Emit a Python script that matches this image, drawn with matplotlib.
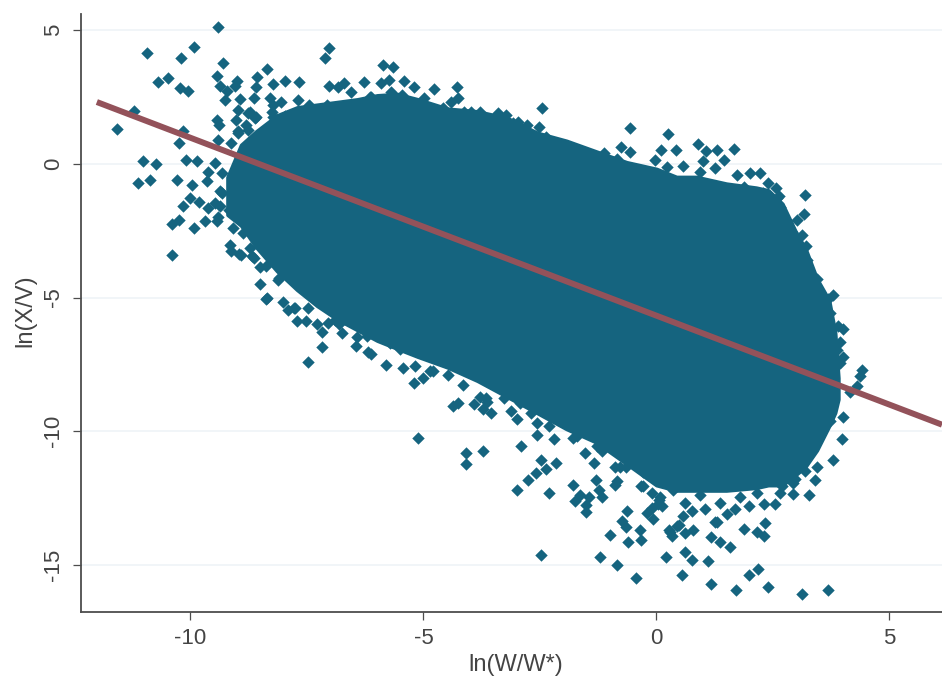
import numpy as np
import matplotlib
matplotlib.use("Agg")
import matplotlib.pyplot as plt

plt.rcParams['font.family'] = ['Liberation Sans', 'DejaVu Sans']
plt.rcParams['axes.unicode_minus'] = False

x_ticks = [-10, -5, 0, 5]
y_ticks = [-15, -10, -5, 0, 5]
x_label = "ln(W/W*)"
y_label = "ln(X/V)"

# dense cloud envelope
cloud_x = [-9.2, -8.91, -8.59, -8.14, -7.71, -7.28, -6.85, -6.42, -5.99, -5.56, -5.12, -4.48, -3.84, -3.2, -2.56, -1.93,
           -1.29, -0.64, 0.0, 0.43, 0.86, 1.5, 2.14, 2.4, 2.7, 3.0, 3.2, 3.44, 3.7, 3.83, 3.9]
cloud_top = [-0.5, 0.7, 1.2, 1.8, 2.1, 2.2, 2.3, 2.4, 2.55, 2.6, 2.4, 2.05, 1.95, 1.7, 1.15, 0.85,
             0.45, 0.05, -0.2, -0.5, -0.5, -0.75, -0.9, -1.0, -1.5, -2.6, -3.2, -4.3, -5.1, -6.3, -8.0]
cloud_low = [-1.9, -2.3, -3.1, -4.0, -4.7, -5.3, -5.8, -6.2, -6.6, -6.9, -7.2, -7.6, -8.1, -8.7, -9.3, -9.9,
             -10.4, -11.2, -12.0, -12.2, -12.2, -12.2, -12.1, -12.0, -12.0, -11.6, -11.3, -10.7, -9.8, -9.3, -8.8]

# individually readable points around the cloud
scatter_points = [
    (-9.41, 5.10), (-10.94, 4.15), (-9.93, 4.38), (-10.21, 3.96), (-9.30, 3.78), (-7.02, 4.32), (-7.11, 3.94),
    (-9.44, 3.29), (-10.49, 3.22), (-10.70, 3.05), (-10.22, 2.82), (-10.06, 2.73), (-9.37, 2.92), (-9.00, 3.10),
    (-9.04, 2.91), (-9.21, 2.74), (-8.36, 3.53), (-8.57, 3.24), (-8.59, 2.86), (-8.23, 3.00), (-7.98, 3.11),
    (-7.67, 3.05), (-9.25, 2.39), (-8.94, 2.41), (-8.64, 2.45), (-8.30, 2.45), (-8.05, 2.32), (-7.69, 2.39),
    (-7.02, 2.91), (-6.70, 3.02), (-6.84, 2.86), (-6.55, 2.69), (-6.27, 3.05), (-6.12, 2.51), (-8.99, 2.01),
    (-8.72, 1.95), (-11.21, 1.98), (-11.57, 1.29), (-9.44, 1.64), (-9.39, 1.46), (-9.03, 1.62), (-8.59, 1.76),
    (-8.80, 1.46), (-8.98, 1.17), (-10.16, 1.24), (-10.25, 0.77), (-9.41, 0.90), (-9.14, 0.79), (-11.01, 0.12),
    (-10.73, 0.01), (-10.09, 0.15), (-9.87, 0.09), (-11.12, -0.72), (-10.87, -0.60), (-10.28, -0.60), (-9.96, -0.78),
    (-9.48, 0.03), (-9.62, -0.29), (-9.64, -0.66), (-10.00, -1.26), (-10.17, -1.57), (-9.81, -1.43), (-9.62, -1.65),
    (-9.37, -1.59), (-9.37, -1.03), (-10.24, -2.09), (-10.39, -2.24), (-9.93, -2.41), (-9.69, -2.15), (-9.44, -2.15),
    (-10.39, -3.40), (-9.16, -3.02), (-9.12, -3.27), (-8.92, -3.40), (-8.64, -3.52), (-9.09, -2.40), (-8.87, -2.59),
    (-8.73, -3.15), (-8.50, -4.48), (-8.36, -5.01), (-8.37, -3.83), (-8.09, -4.27), (-7.99, -3.83), (-8.12, -4.35),
    (-8.37, -5.04), (-8.01, -5.16), (-7.91, -5.45), (-7.77, -5.39), (-7.71, -5.88), (-7.17, -6.83),
    (-7.47, -7.39), (-6.19, -7.05), (-6.81, -6.00),
    (-5.20, -8.21), (-4.16, -8.25), (-4.25, -8.93), (-4.37, -9.06), (-3.91, -8.96), (-3.73, -9.15), (-3.66, -8.74),
    (-3.55, -9.33), (-3.27, -8.74), (-3.13, -9.24), (-3.00, -9.55), (-2.70, -9.30), (-2.56, -9.68), (-2.31, -9.80),
    (-2.56, -10.15), (-2.20, -10.30), (-1.70, -10.18), (-5.12, -10.25), (-4.08, -10.80), (-3.73, -10.73),
    (-4.08, -11.23), (-2.90, -10.55), (-2.48, -11.08), (-2.16, -11.17), (-2.36, -11.39), (-2.59, -11.54),
    (-2.76, -11.82), (-3.00, -12.19), (-2.31, -12.31), (-1.54, -10.79), (-1.33, -11.17), (-1.27, -10.55),
    (-1.78, -12.01), (-1.29, -11.82), (-0.88, -11.35), (-0.66, -11.35), (-0.84, -11.85), (-0.88, -12.01),
    (-1.24, -12.19), (-1.16, -12.44), (-1.65, -12.39), (-1.45, -12.44), (-1.75, -12.60), (-1.51, -12.76),
    (-1.51, -13.00), (-0.32, -12.06), (-0.09, -12.29), (-0.28, -11.53), (0.05, -12.56), (0.12, -12.79),
    (-0.09, -12.85), (-0.20, -13.06), (-0.07, -13.26), (-0.63, -12.97), (-0.74, -13.34), (-0.66, -13.59),
    (-0.36, -13.69), (-0.32, -14.07), (-0.99, -13.88), (-0.62, -14.15), (-1.20, -14.68), (-0.84, -14.99),
    (-0.43, -15.47), (-2.48, -14.62), (0.20, -14.68), (0.26, -13.69), (0.34, -13.90), (0.44, -13.53),
    (0.62, -12.66), (0.04, -12.72), (0.76, -12.97), (0.58, -13.16), (0.48, -13.51), (0.30, -13.76), (0.62, -13.81),
    (0.79, -13.69), (1.31, -13.38), (1.25, -13.38), (1.88, -13.66), (2.16, -13.75), (2.30, -13.91), (2.33, -13.41),
    (1.18, -13.94), (1.36, -14.12), (1.59, -14.31), (0.62, -14.50), (0.76, -14.81), (1.11, -14.86), (0.55, -15.35),
    (1.18, -15.71), (1.70, -15.94), (1.98, -15.35), (2.19, -15.16), (2.40, -15.83), (3.13, -16.08), (3.69, -15.94),
    (3.28, -12.38), (2.93, -12.33), (3.40, -11.83), (3.78, -11.08), (3.98, -10.30), (4.01, -9.45), (3.73, -9.61),
    (3.44, -11.35), (3.19, -11.48), (2.98, -11.79), (2.69, -12.04), (2.55, -12.72), (2.30, -12.72), (1.98, -12.79),
    (1.69, -12.91), (1.51, -13.10), (1.05, -12.91), (-0.28, -12.04),
    (-0.56, 1.34), (0.24, 1.11), (-0.77, 0.62), (-0.57, 0.46), (-1.13, 0.40), (-0.84, 0.18), (0.10, 0.50), (0.41, 0.50),
    (-0.02, 0.15), (0.23, -0.10), (0.57, -0.07), (0.89, 0.75), (1.06, 0.49), (1.31, 0.50), (1.66, 0.56), (1.46, 0.15),
    (1.01, 0.09), (0.94, -0.29), (1.26, -0.16), (1.73, -0.41), (2.01, -0.35), (2.23, -0.35), (2.40, -0.72),
    (2.56, -0.91), (2.63, -1.22), (3.20, -1.15), (3.17, -1.88), (3.01, -2.11), (2.62, -1.90), (3.12, -2.65),
    (2.91, -2.53), (3.21, -3.09), (3.10, -3.24), (3.23, -3.58), (3.44, -4.29), (3.80, -4.91), (3.69, -5.07),
    (4.01, -6.17), (3.90, -6.07), (3.94, -6.67), (3.88, -6.94), (4.00, -7.21), (4.42, -7.69), (4.37, -7.94),
    (4.30, -8.32), (4.15, -8.51),
    (-5.86, 3.69), (-5.65, 3.61), (-5.41, 3.10), (-5.91, 3.01), (-5.73, 3.13), (-5.20, 2.88), (-4.78, 2.81),
    (-4.29, 2.86), (-2.45, 2.08), (-6.14, 2.51), (-5.70, 2.70), (-4.98, 2.45), (-4.25, 2.45), (-4.41, 2.32),
    (-5.45, 2.57), (-3.98, 1.95), (-3.41, 1.89), (-3.23, 1.83), (-2.98, 1.58), (-2.52, 1.39), (-2.38, 1.02),
    (-7.08, 2.20), (-6.73, 2.14), (-7.45, 2.20), (-7.23, 2.01), (-6.59, 1.95), (-6.34, 1.89), (-7.87, 1.83),
    (-8.23, 1.76), (-8.23, 2.20),
    # lower-left fringe
    (-8.95, -3.38), (-7.75, -5.38), (-7.52, -5.89), (-7.48, -5.40), (-7.29, -5.97), (-7.17, -6.27), (-7.04, -5.96),
    (-6.89, -5.83), (-6.75, -6.31), (-6.43, -6.46), (-6.45, -6.80), (-6.12, -7.09), (-5.81, -7.52), (-5.43, -7.64),
    (-5.18, -7.56), (-5.00, -8.00), (-5.50, -6.93), (-5.71, -6.70), (-4.86, -7.74), (-6.21, -6.45), (-8.50, -3.84),
    (-8.68, -3.46), (-4.48, -7.89), (-4.79, -7.76), (-3.78, -8.70), (-3.64, -8.89), (-2.92, -8.95), (-1.78, -10.25),
    (-1.17, -10.75), (-0.78, -11.32),
    # upper-left fringe
    (-8.76, 1.89), (-8.61, 1.71), (-8.97, 1.21), (-8.76, 1.27), (-8.54, 0.90), (-8.47, 0.22), (-8.25, 1.95),
    (-8.22, 1.52), (-7.97, 1.77), (-7.50, 1.90), (-7.32, 2.01), (-8.93, 0.27), (-9.33, -0.35), (-9.04, -0.47),
    (-8.83, -0.60), (-9.33, -1.10), (-9.04, -0.97), (-9.47, -1.47), (-9.18, -1.72), (-9.40, -1.97),
    # top and right edge bumps
    (-4.58, 2.09), (-4.14, 1.94), (-3.79, 1.94), (-3.07, 1.53), (-2.78, 1.46), (-1.06, 0.15), (-0.28, -0.30),
    (0.72, -0.67), (1.87, -0.86), (2.29, -1.08), (2.59, -1.27), (2.65, -1.60), (3.44, -4.60), (3.51, -5.08),
    (3.72, -5.57), (3.72, -6.30), (3.94, -7.44),
    # bottom edge bumps
    (0.94, -12.37), (1.37, -12.67), (1.80, -12.44), (2.16, -12.30), (2.65, -12.30), (2.93, -11.93), (0.36, -12.19),
    (0.08, -12.44),
]

fit_x = [-12.01, 6.13]
fit_y = [2.31, -9.75]

NAVY = "#15647f"
MAROON = "#93525a"
DARK = "#4d4d4d"
TEXT = "#444444"

fig = plt.figure(figsize=(9.42, 6.79), dpi=100)
ax = fig.add_axes([81 / 942, (679 - 611.7) / 679, 861 / 942, (611.7 - 14) / 679])

ax.set_xlim(-12.35, 6.13)
ax.set_ylim(-16.74, 5.6)

ax.set_yticks(y_ticks)
ax.set_xticks(x_ticks)
ax.grid(axis='y', color="#eef2f6", linewidth=1.1, zorder=0)
ax.grid(axis='x', visible=False)
ax.set_axisbelow(True)

ax.fill_between(cloud_x, cloud_low, cloud_top, color=NAVY, linewidth=3, zorder=2)
pts = np.array(scatter_points)
ax.scatter(pts[:, 0], pts[:, 1], marker='D', s=40, color=NAVY, linewidths=0, zorder=2)
ax.plot(fit_x, fit_y, color=MAROON, linewidth=4.3, solid_capstyle='butt', zorder=3)

for s in ('top', 'right'):
    ax.spines[s].set_visible(False)
for s in ('left', 'bottom'):
    ax.spines[s].set_color(DARK)
    ax.spines[s].set_linewidth(1.3)

ax.tick_params(axis='both', length=6, width=0.9, color=DARK, labelcolor=TEXT, labelsize=16, pad=6)
for lab in ax.get_yticklabels():
    lab.set_rotation(90)
    lab.set_va('center')

ax.set_xlabel(x_label, fontsize=17, color=TEXT, labelpad=3)
ax.xaxis.set_label_coords((516 - 81) / 861, -(665 - 611.7) / 597.7, transform=ax.transAxes)
ax.xaxis.label.set_verticalalignment('center')
ax.set_ylabel(y_label, fontsize=17, color=TEXT)
ax.yaxis.set_label_coords(-(81 - 25) / 861, (611.7 - 311) / 597.7, transform=ax.transAxes)
ax.yaxis.label.set_verticalalignment('center')

fig.savefig("out.png", dpi=100)
